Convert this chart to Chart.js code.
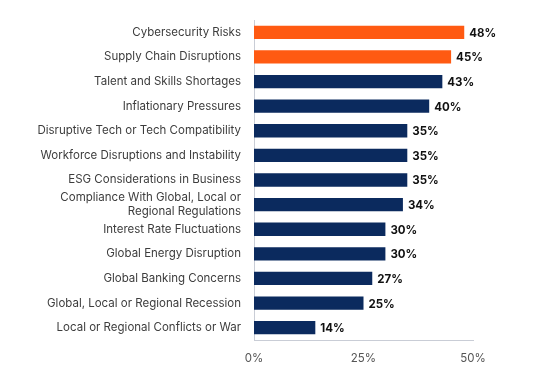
<!DOCTYPE html>
<html>
<head>
<meta charset="utf-8">
<script src="https://cdn.jsdelivr.net/npm/chart.js@4/dist/chart.umd.min.js"></script>
<style>
  html, body { margin: 0; padding: 0; background: #fff; }
  #wrap { width: 534px; height: 372px; position: relative; }
</style>
</head>
<body>
<div id="wrap"><canvas id="chart"></canvas></div>
<script>
// Chart data
const categories = [
    'Cybersecurity Risks',
    'Supply Chain Disruptions',
    'Talent and Skills Shortages',
    'Inflationary Pressures',
    'Disruptive Tech or Tech Compatibility',
    'Workforce Disruptions and Instability',
    'ESG Considerations in Business',
    ['Compliance With Global, Local or', 'Regional Regulations'],
    'Interest Rate Fluctuations',
    'Global Energy Disruption',
    'Global Banking Concerns',
    'Global, Local or Regional Recession',
    'Local or Regional Conflicts or War'
];
const values = [48, 45, 43, 40, 35, 35, 35, 34, 30, 30, 27, 25, 14];
const highlighted = [true, true, false, false, false, false, false, false, false, false, false, false, false];
const xTicks = [0, 25, 50];

const ORANGE = '#ff5a12';
const NAVY = '#0b2a5e';
const FONT = 'Inter, "Noto Sans", sans-serif';

// Draw the value labels to the right of each bar
const valueLabels = {
    id: 'valueLabels',
    afterDatasetsDraw(chart) {
        const ctx = chart.ctx;
        const meta = chart.getDatasetMeta(0);
        ctx.save();
        ctx.font = 'bold 11.5px ' + FONT;
        ctx.fillStyle = '#111';
        ctx.textAlign = 'left';
        ctx.textBaseline = 'middle';
        meta.data.forEach(function(bar, i) {
            ctx.fillText(values[i] + '%', bar.x + 5, bar.y + 1);
        });
        ctx.restore();
    }
};

new Chart(document.getElementById('chart'), {
    type: 'bar',
    data: {
        labels: categories,
        datasets: [{
            data: values,
            backgroundColor: highlighted.map(h => h ? ORANGE : NAVY),
            barPercentage: 0.54,
            categoryPercentage: 1
        }]
    },
    options: {
        indexAxis: 'y',
        responsive: true,
        maintainAspectRatio: false,
        animation: false,
        layout: { padding: { top: 20, right: 61, bottom: 0, left: 0 } },
        plugins: {
            legend: { display: false },
            tooltip: { enabled: false }
        },
        scales: {
            x: {
                min: 0,
                max: 50,
                afterBuildTicks: function(scale) {
                    scale.ticks = xTicks.map(v => ({ value: v }));
                },
                afterFit: function(scale) { scale.height = 32; },
                grid: { display: false, drawTicks: false },
                border: { display: true, color: '#c9cdd6', width: 1 },
                ticks: {
                    padding: 12,
                    color: '#555',
                    font: { family: FONT, size: 11.5 },
                    callback: v => v + '%'
                }
            },
            y: {
                afterFit: function(scale) { scale.width = 254; },
                grid: { display: false, drawTicks: false },
                border: { display: true, color: '#c9cdd6', width: 1 },
                ticks: {
                    padding: 13,
                    color: '#3d3d3d',
                    font: { family: FONT, size: 11.5 },
                    autoSkip: false
                }
            }
        }
    },
    plugins: [valueLabels]
});
</script>
</body>
</html>
